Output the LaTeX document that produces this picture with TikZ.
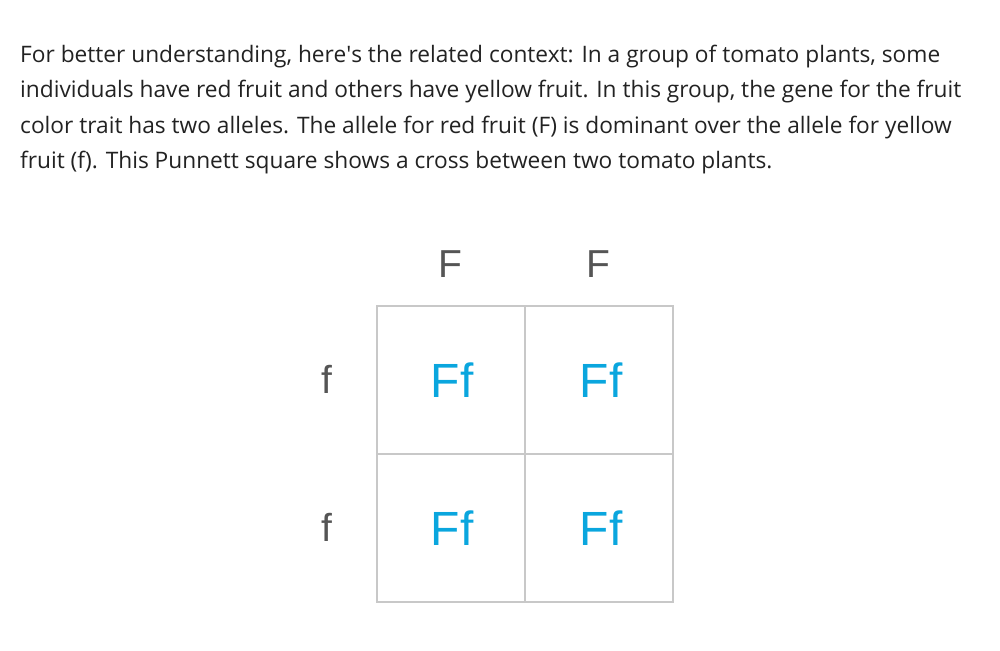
\documentclass[tikz,border=0pt]{standalone}
\usepackage{fontspec}
\setmainfont{Open Sans}
\newfontfamily\arialfont{Liberation Sans}
\definecolor{bodytext}{HTML}{222222}
\definecolor{gridgray}{HTML}{C8C8C8}
\definecolor{allelegray}{HTML}{555555}
\definecolor{offspringblue}{HTML}{0AA6DE}
\tikzset{
  paraline/.style={anchor=base west,inner sep=0,text=bodytext,font=\fontsize{22.7}{26}\selectfont},
  cellbox/.style={draw=gridgray,line width=2.5pt,minimum size=148pt,inner sep=0,outer sep=0,anchor=north west},
  parentlabel/.style={inner sep=0,anchor=base,text=allelegray,font=\arialfont\fontsize{39}{44}\selectfont},
  offspring/.style={inner sep=0,anchor=base,text=offspringblue,font=\arialfont\fontsize{48}{54}\selectfont}
}
\begin{document}
\begin{tikzpicture}[x=1pt,y=-1pt]
  \useasboundingbox (0,0) rectangle (1000,650);
  % context paragraph
  \node[paraline] (line1) at (20,63) {For better understanding, here\textquotesingle s the related context: In a group of tomato plants, some};
  \node[paraline] (line2) at (20,98) {individuals have red fruit and others have yellow fruit. In this group, the gene for the fruit};
  \node[paraline] (line3) at (20,133) {color trait has two alleles. The allele for red fruit (F) is dominant over the allele for yellow};
  \node[paraline] (line4) at (20,168) {fruit (f). This Punnett square shows a cross between two tomato plants.};
  % punnett square
  \node[cellbox] (c11) at (377,306) {};
  \node[cellbox] (c12) at (525,306) {};
  \node[cellbox] (c21) at (377,454) {};
  \node[cellbox] (c22) at (525,454) {};
  \node[parentlabel] (top1) at (450,277) {F};
  \node[parentlabel] (top2) at (598,277) {F};
  \node[parentlabel] (left1) at (327,393) {f};
  \node[parentlabel] (left2) at (327,541) {f};
  \node[offspring] (ff11) at (452,397) {Ff};
  \node[offspring] (ff12) at (601,397) {Ff};
  \node[offspring] (ff21) at (452,545) {Ff};
  \node[offspring] (ff22) at (601,545) {Ff};
\end{tikzpicture}
\end{document}
